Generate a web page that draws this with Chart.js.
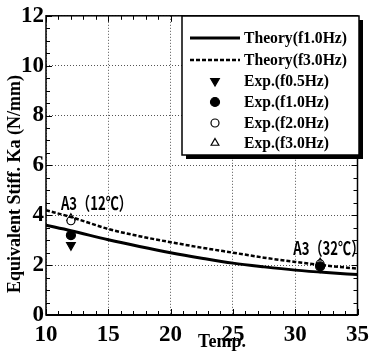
<!DOCTYPE html>
<html>
<head>
<meta charset="utf-8">
<script src="https://cdn.jsdelivr.net/npm/chart.js@4.4.0/dist/chart.umd.min.js"></script>
<style>
html,body{margin:0;padding:0;background:#fff}
#c{display:block}
</style>
</head>
<body>
<canvas id="c" width="375" height="352"></canvas>
<script>
// data
const tempTheory=[10,12,15,17.5,20,22.5,25,27.5,30,32.5,35];
const theoryF1=[3.6,3.38,3.02,2.75,2.5,2.28,2.08,1.93,1.8,1.7,1.62];
const theoryF3=[4.2,3.93,3.45,3.16,2.92,2.7,2.5,2.3,2.13,1.98,1.86];
const tempExp=[12,32];
const expF05=[2.8,1.9];
const expF10=[3.2,1.95];
const expF20=[3.78,2.05];
const expF30=[3.88,2.1];
const seriesLabels=['Theory(f1.0Hz)','Theory(f3.0Hz)','Exp.(f0.5Hz)','Exp.(f1.0Hz)','Exp.(f2.0Hz)','Exp.(f3.0Hz)'];
const xTicks=[10,15,20,25,30,35];
const yTicks=[0,2,4,6,8,10,12];
const notes=[{text:'A3（12℃）',x:14.05,y:4.48},{text:'A3（32℃）',x:32.7,y:2.7}];

const serif='"Liberation Serif","Times New Roman",serif';
const pts=(xs,ys)=>xs.map((x,i)=>({x,y:ys[i]}));

function mk(label,data,o){
  return Object.assign({label,data,showLine:false,pointRadius:4.5,pointBorderWidth:1.2,
    pointBorderColor:'#000',pointBackgroundColor:'#000'},o);
}

const datasets=[
  mk(seriesLabels[0],pts(tempTheory,theoryF1),{showLine:true,borderColor:'#000',borderWidth:3,pointRadius:0,cubicInterpolationMode:'monotone'}),
  mk(seriesLabels[1],pts(tempTheory,theoryF3),{showLine:true,borderColor:'#000',borderWidth:2.5,borderDash:[4,2],pointRadius:0,cubicInterpolationMode:'monotone'}),
  mk(seriesLabels[2],pts(tempExp,expF05),{pointStyle:'triangle',rotation:180,pointRadius:5}),
  mk(seriesLabels[3],pts(tempExp,expF10),{pointStyle:'circle',pointRadius:4.5}),
  mk(seriesLabels[4],pts(tempExp,expF20),{pointStyle:'circle',pointRadius:4,pointBackgroundColor:'#fff'}),
  mk(seriesLabels[5],pts(tempExp,expF30),{pointStyle:'triangle',pointRadius:4.5,pointBackgroundColor:'#fff'})
];

// text squeezed to a given width, like the scanned figure
function squeezed(ctx,text,cx,cy,w){
  const m=ctx.measureText(text).width;
  ctx.save();
  ctx.translate(cx,cy);
  ctx.scale(Math.min(1,w/m),1);
  ctx.fillText(text,0,0);
  ctx.restore();
}

// frame, minor ticks, titles, notes, legend
const decor={
  id:'decor',
  afterDatasetsDraw(chart){
    const {ctx,chartArea:a,scales:{x,y}}=chart;
    ctx.save();
    ctx.strokeStyle='#000';
    ctx.lineWidth=1;
    for(let v=10;v<=35;v+=1){
      const px=Math.round(x.getPixelForValue(v))+0.5;
      const len=v%5===0?6:4;
      ctx.beginPath();
      ctx.moveTo(px,a.bottom);ctx.lineTo(px,a.bottom-len);
      ctx.moveTo(px,a.top);ctx.lineTo(px,a.top+len);
      ctx.stroke();
    }
    for(let v=0;v<=12;v+=0.5){
      const py=Math.round(y.getPixelForValue(v))+0.5;
      const len=v%2===0?6:4;
      ctx.beginPath();
      ctx.moveTo(a.left,py);ctx.lineTo(a.left+len,py);
      ctx.moveTo(a.right,py);ctx.lineTo(a.right-len,py);
      ctx.stroke();
    }
    ctx.lineWidth=1.5;
    ctx.strokeRect(a.left,a.top,a.right-a.left,a.bottom-a.top);
    ctx.lineWidth=2;
    ctx.beginPath();ctx.moveTo(a.left,a.bottom);ctx.lineTo(a.right,a.bottom);ctx.stroke();

    // notes
    ctx.fillStyle='#000';
    ctx.font='bold 18px "Noto Sans CJK JP","Noto Sans",sans-serif';
    ctx.textAlign='center';ctx.textBaseline='middle';
    notes.forEach(n=>squeezed(ctx,n.text,x.getPixelForValue(n.x),y.getPixelForValue(n.y),71));

    // axis titles
    ctx.font='bold 18px '+serif;
    ctx.fillText('Temp.',222,342);
    ctx.save();
    ctx.translate(15,184);ctx.rotate(-Math.PI/2);
    squeezed(ctx,'Equivalent Stiff. Ka (N/mm)',0,0,236);
    ctx.restore();

    // legend box
    const bx=182,by=16,bw=177,bh=139;
    ctx.fillStyle='#000';
    ctx.fillRect(bx+4,by+4,bw,bh);
    ctx.fillStyle='#fff';
    ctx.fillRect(bx,by,bw,bh);
    ctx.lineWidth=1.5;
    ctx.strokeRect(bx,by,bw,bh);
    const rows=[38,60,81,102,123,143];
    ctx.font='bold 17px '+serif;
    chart.data.datasets.forEach((d,i)=>{
      const ry=rows[i];
      ctx.strokeStyle='#000';
      if(d.showLine){
        ctx.lineWidth=d.borderWidth;
        ctx.setLineDash(d.borderDash||[]);
        ctx.beginPath();ctx.moveTo(190,ry);ctx.lineTo(240,ry);ctx.stroke();
        ctx.setLineDash([]);
      }else{
        ctx.lineWidth=d.pointBorderWidth;
        ctx.fillStyle=d.pointBackgroundColor;
        Chart.helpers.drawPoint(ctx,{pointStyle:d.pointStyle,rotation:d.rotation||0,radius:d.pointRadius,borderWidth:d.pointBorderWidth},215,ry);
      }
      ctx.fillStyle='#000';
      ctx.textAlign='center';
      const w=d.label.length>12?103:85;
      squeezed(ctx,d.label,244+w/2,ry+1,w);
    });
    ctx.restore();
  }
};

new Chart(document.getElementById('c'),{
  type:'scatter',
  data:{datasets},
  options:{
    responsive:false,
    animation:false,
    devicePixelRatio:1,
    layout:{padding:{top:13,right:11,left:0,bottom:0}},
    plugins:{legend:{display:false},tooltip:{enabled:false}},
    scales:{
      x:{
        type:'linear',min:10,max:35,
        afterBuildTicks:s=>{s.ticks=xTicks.map(v=>({value:v}));},
        afterFit:s=>{s.height=37;},
        grid:{color:'#555',lineWidth:1,drawTicks:false},
        border:{display:false,dash:[1,2]},
        ticks:{padding:6,color:'#000',font:{family:serif,size:23,weight:'bold'},maxRotation:0}
      },
      y:{
        type:'linear',min:0,max:12,
        afterBuildTicks:s=>{s.ticks=yTicks.map(v=>({value:v}));},
        afterFit:s=>{s.width=46;},
        grid:{color:'#555',lineWidth:1,drawTicks:false},
        border:{display:false,dash:[1,2]},
        ticks:{padding:2,color:'#000',font:{family:serif,size:23,weight:'bold'}}
      }
    }
  },
  plugins:[decor]
});
</script>
</body>
</html>
